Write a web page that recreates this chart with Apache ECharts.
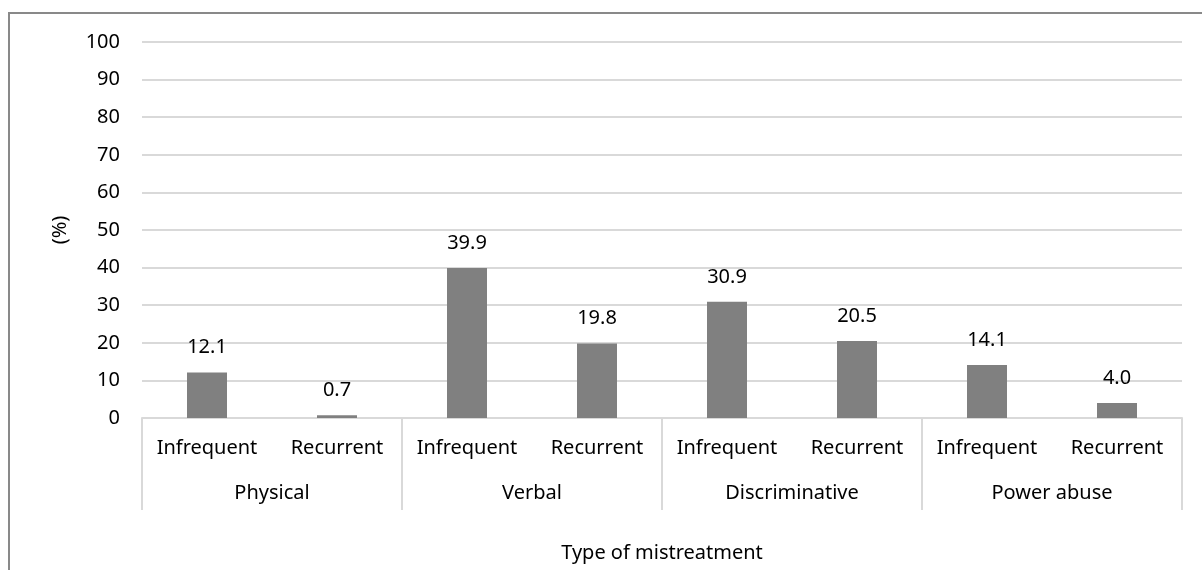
<!DOCTYPE html>
<html>
<head>
<meta charset="utf-8">
<script src="https://cdn.jsdelivr.net/npm/echarts@6/dist/echarts.min.js"></script>
<style>html,body{margin:0;padding:0;background:#fff}#c{width:1202px;height:570px}</style>
</head>
<body>
<div id="c"></div>
<script>
var subCategories = ['Infrequent', 'Recurrent', 'Infrequent', 'Recurrent', 'Infrequent', 'Recurrent', 'Infrequent', 'Recurrent'];
var groups = ['Physical', 'Verbal', 'Discriminative', 'Power abuse'];
var values = [12.1, 0.7, 39.9, 19.8, 30.9, 20.5, 14.1, 4.0];
var yTicks = [0, 100, 10];

var FONT = 'Noto Sans';
var chart = echarts.init(document.getElementById('c'));
chart.setOption({
  animation: false,
  textStyle: {fontFamily: FONT},
  graphic: [{
    type: 'rect', shape: {x: 9, y: 13, width: 1300, height: 700},
    style: {fill: 'none', stroke: '#898989', lineWidth: 2}, silent: true
  }],
  grid: {left: 142, right: 20, top: 42, bottom: 152, containLabel: false},
  xAxis: [{
    type: 'category', data: subCategories, position: 'bottom',
    axisLine: {show: true, lineStyle: {color: '#d9d9d9', width: 2}},
    axisTick: {show: false},
    axisLabel: {color: '#000', fontSize: 20, margin: 20, interval: 0, fontFamily: FONT}
  }, {
    type: 'category', data: groups, position: 'bottom',
    axisLine: {show: false},
    axisTick: {show: true, length: 92, lineStyle: {color: '#d9d9d9', width: 2}},
    axisLabel: {color: '#000', fontSize: 20, margin: 65, interval: 0, fontFamily: FONT},
    name: 'Type of mistreatment', nameLocation: 'middle', nameGap: 125,
    nameTextStyle: {color: '#000', fontSize: 20, fontFamily: FONT}
  }],
  yAxis: {
    type: 'value', min: yTicks[0], max: yTicks[1], interval: yTicks[2],
    axisLine: {show: false}, axisTick: {show: false},
    splitLine: {lineStyle: {color: '#d9d9d9', width: 2}},
    axisLabel: {color: '#000', fontSize: 20, margin: 22, fontFamily: FONT},
    name: '(%)', nameLocation: 'middle', nameGap: 72, nameRotate: 90,
    nameTextStyle: {color: '#000', fontSize: 20, fontFamily: FONT}
  },
  series: [{
    type: 'bar', xAxisIndex: 0, data: values, barWidth: 40,
    itemStyle: {color: '#808080'},
    label: {show: true, position: 'top', distance: 15, color: '#000', fontSize: 20, fontFamily: FONT,
      formatter: function (p) { return p.value.toFixed(1); }}
  }]
});
</script>
</body>
</html>
